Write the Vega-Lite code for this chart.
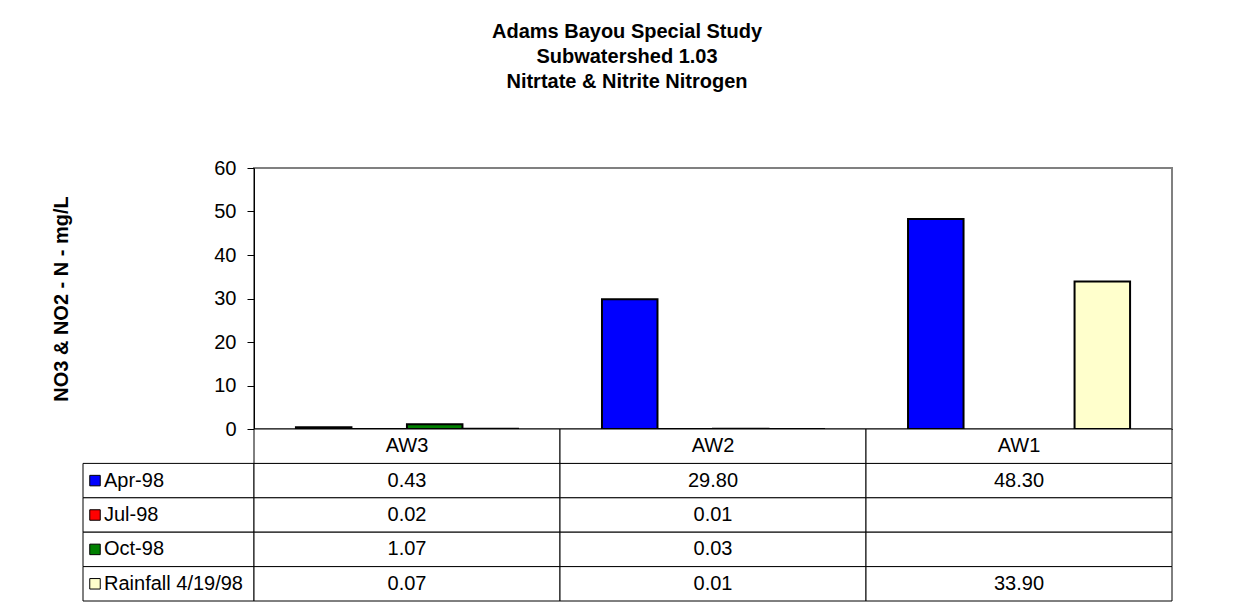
{
  "$schema": "https://vega.github.io/schema/vega-lite/v6.json",
  "background": "white",
  "padding": {"left": 50, "top": 22, "right": 5, "bottom": 5},
  "config": {
    "font": "Liberation Sans",
    "view": {"stroke": null},
    "text": {"color": "black"}
  },
  "title": {
    "text": ["Adams Bayou Special Study", "Subwatershed 1.03", "Nitrtate & Nitrite Nitrogen"],
    "fontSize": 20,
    "fontWeight": "bold",
    "lineHeight": 25,
    "color": "black",
    "anchor": "start",
    "align": "center",
    "dx": 544,
    "frame": "group",
    "offset": 65
  },
  "datasets": {
    "vals": [
      {"site": "AW3", "series": "Apr-98", "value": 0.43},
      {"site": "AW3", "series": "Jul-98", "value": 0.02},
      {"site": "AW3", "series": "Oct-98", "value": 1.07},
      {"site": "AW3", "series": "Rainfall 4/19/98", "value": 0.07},
      {"site": "AW2", "series": "Apr-98", "value": 29.8},
      {"site": "AW2", "series": "Jul-98", "value": 0.01},
      {"site": "AW2", "series": "Oct-98", "value": 0.03},
      {"site": "AW2", "series": "Rainfall 4/19/98", "value": 0.01},
      {"site": "AW1", "series": "Apr-98", "value": 48.3},
      {"site": "AW1", "series": "Jul-98", "value": null},
      {"site": "AW1", "series": "Oct-98", "value": null},
      {"site": "AW1", "series": "Rainfall 4/19/98", "value": 33.9}
    ],
    "keys": [
      {"series": "Apr-98"},
      {"series": "Jul-98"},
      {"series": "Oct-98"},
      {"series": "Rainfall 4/19/98"}
    ],
    "sites": [
      {"site": "AW3"},
      {"site": "AW2"},
      {"site": "AW1"}
    ]
  },
  "columns": 2,
  "spacing": 0,
  "bounds": "flush",
  "align": "each",
  "concat": [
    {
      "width": 171,
      "height": 261,
      "data": {"values": []},
      "mark": "point"
    },
    {
      "width": 918,
      "height": 261,
      "data": {"name": "vals"},
      "view": {"stroke": "#808080", "strokeWidth": 2},
      "mark": {"type": "bar", "stroke": "black", "strokeWidth": 2},
      "encoding": {
        "x": {
          "field": "site", "type": "nominal", "sort": ["AW3", "AW2", "AW1"],
          "scale": {"paddingInner": 0.2745, "paddingOuter": 0.137},
          "axis": {"labels": false, "ticks": false, "title": null, "domainColor": "black", "domainWidth": 1}
        },
        "xOffset": {
          "field": "series", "type": "nominal",
          "sort": ["Apr-98", "Jul-98", "Oct-98", "Rainfall 4/19/98"],
          "scale": {"paddingInner": 0, "paddingOuter": 0}
        },
        "y": {
          "field": "value", "type": "quantitative",
          "scale": {"domain": [0, 60], "nice": false},
          "axis": {
            "values": [0, 10, 20, 30, 40, 50, 60],
            "grid": false,
            "title": "NO3 & NO2 - N - mg/L",
            "titleFontSize": 20,
            "titleFontWeight": "bold",
            "titleColor": "black",
            "titlePadding": 142,
            "labelFontSize": 20,
            "labelColor": "black",
            "labelPadding": 11,
            "tickSize": 7,
            "tickColor": "black",
            "domainColor": "black"
          }
        },
        "color": {
          "field": "series", "type": "nominal",
          "scale": {"domain": ["Apr-98", "Jul-98", "Oct-98", "Rainfall 4/19/98"], "range": ["#0000FF", "#FF0000", "#008000", "#FFFFCC"]},
          "legend": null
        }
      }
    },
    {
      "width": 171,
      "height": 172,
      "data": {"name": "keys"},
      "encoding": {
        "y": {
          "field": "series", "type": "nominal",
          "scale": {"domain": ["Site", "Apr-98", "Jul-98", "Oct-98", "Rainfall 4/19/98"], "paddingInner": 0, "paddingOuter": 0},
          "axis": null
        }
      },
      "layer": [
        {
          "mark": {"type": "rect", "fill": "white", "stroke": "black", "strokeWidth": 1},
          "encoding": {"x": {"value": 0}, "x2": {"value": "width"}}
        },
        {
          "mark": {"type": "point", "shape": "square", "filled": true, "size": 110, "stroke": "black", "strokeWidth": 1, "opacity": 1},
          "encoding": {
            "x": {"value": 12},
            "fill": {
              "field": "series", "type": "nominal",
              "scale": {"domain": ["Apr-98", "Jul-98", "Oct-98", "Rainfall 4/19/98"], "range": ["#0000FF", "#FF0000", "#008000", "#FFFFCC"]},
              "legend": null
            }
          }
        },
        {
          "mark": {"type": "text", "align": "left", "baseline": "middle", "fontSize": 20, "color": "black"},
          "encoding": {"x": {"value": 21}, "text": {"field": "series"}}
        }
      ]
    },
    {
      "width": 918,
      "height": 172,
      "layer": [
        {
          "data": {"name": "vals"},
          "mark": {"type": "rect", "fill": "white", "stroke": "black", "strokeWidth": 1},
          "encoding": {
            "x": {"field": "site", "type": "nominal", "sort": ["AW3", "AW2", "AW1"], "scale": {"paddingInner": 0, "paddingOuter": 0}, "axis": null},
            "y": {"field": "series", "type": "nominal", "scale": {"domain": ["Site", "Apr-98", "Jul-98", "Oct-98", "Rainfall 4/19/98"], "paddingInner": 0, "paddingOuter": 0}, "axis": null}
          }
        },
        {
          "data": {"name": "sites"},
          "mark": {"type": "rect", "fill": "white", "stroke": "black", "strokeWidth": 1},
          "encoding": {
            "x": {"field": "site", "type": "nominal", "sort": ["AW3", "AW2", "AW1"]},
            "y": {"datum": "Site", "type": "nominal"}
          }
        },
        {
          "data": {"name": "vals"},
          "transform": [{"filter": "isValid(datum.value)"}],
          "mark": {"type": "text", "fontSize": 20, "baseline": "middle", "color": "black"},
          "encoding": {
            "x": {"field": "site", "type": "nominal", "sort": ["AW3", "AW2", "AW1"]},
            "y": {"field": "series", "type": "nominal"},
            "text": {"field": "value", "type": "quantitative", "format": ".2f"}
          }
        },
        {
          "data": {"name": "sites"},
          "mark": {"type": "text", "fontSize": 20, "baseline": "middle", "color": "black"},
          "encoding": {
            "x": {"field": "site", "type": "nominal", "sort": ["AW3", "AW2", "AW1"]},
            "y": {"datum": "Site", "type": "nominal"},
            "text": {"field": "site"}
          }
        }
      ]
    }
  ]
}
